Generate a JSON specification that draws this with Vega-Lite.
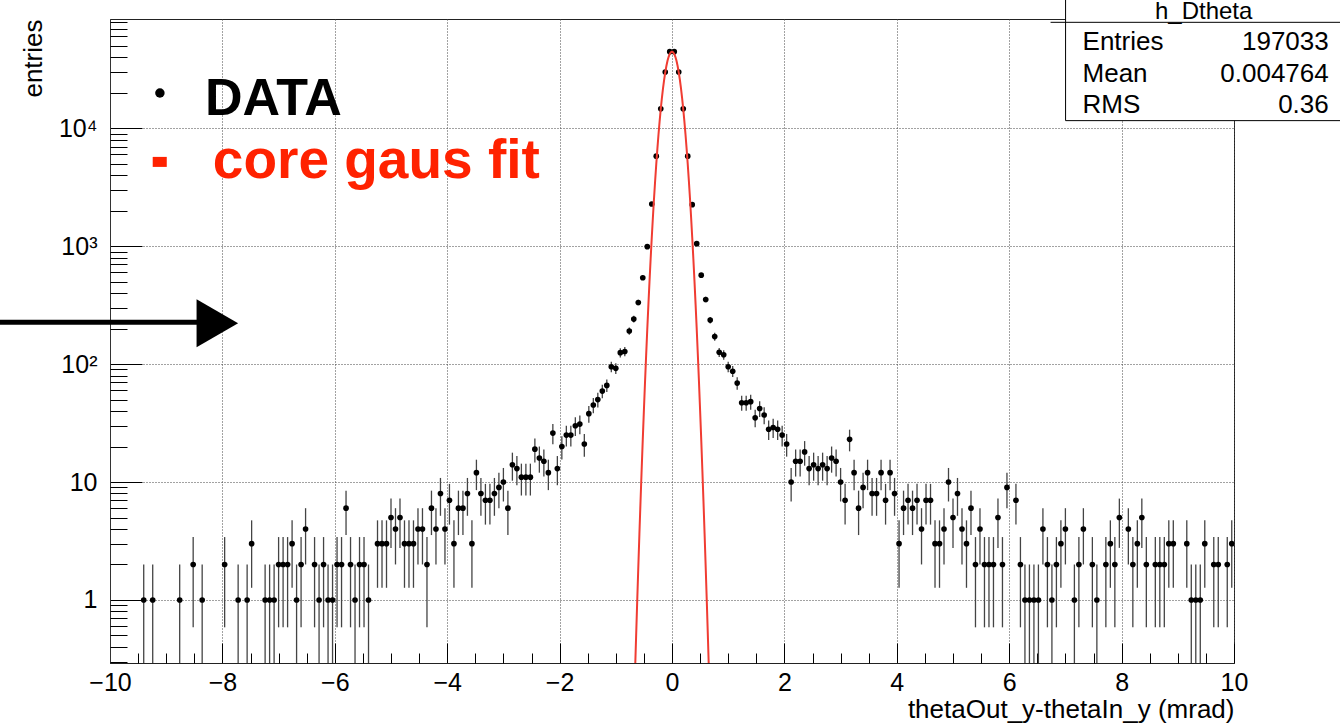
{
  "$schema": "https://vega.github.io/schema/vega-lite/v6.json",
  "width": 1124,
  "height": 644,
  "autosize": "none",
  "padding": {"left": 110, "top": 19, "right": 106, "bottom": 60},
  "background": "white",
  "config": {
    "view": {"stroke": "#222", "strokeWidth": 1},
    "font": "Liberation Sans",
    "axis": {"labelFont": "Liberation Sans", "titleFont": "Liberation Sans", "labelColor": "#000", "titleColor": "#000", "tickColor": "#000", "domainColor": "#333", "labelFlush": false, "labelOverlap": false}
  },
  "datasets": {
    "hist": [
      {"x": -9.40, "n": 1, "lo": 0.01, "hi": 2},
      {"x": -9.24, "n": 1, "lo": 0.01, "hi": 2},
      {"x": -8.76, "n": 1, "lo": 0.01, "hi": 2},
      {"x": -8.52, "n": 2, "lo": 0.586, "hi": 3.414},
      {"x": -8.36, "n": 1, "lo": 0.01, "hi": 2},
      {"x": -7.96, "n": 2, "lo": 0.586, "hi": 3.414},
      {"x": -7.72, "n": 1, "lo": 0.01, "hi": 2},
      {"x": -7.56, "n": 1, "lo": 0.01, "hi": 2},
      {"x": -7.48, "n": 3, "lo": 1.268, "hi": 4.732},
      {"x": -7.24, "n": 1, "lo": 0.01, "hi": 2},
      {"x": -7.16, "n": 1, "lo": 0.01, "hi": 2},
      {"x": -7.08, "n": 1, "lo": 0.01, "hi": 2},
      {"x": -7.00, "n": 2, "lo": 0.586, "hi": 3.414},
      {"x": -6.92, "n": 2, "lo": 0.586, "hi": 3.414},
      {"x": -6.84, "n": 2, "lo": 0.586, "hi": 3.414},
      {"x": -6.76, "n": 3, "lo": 1.268, "hi": 4.732},
      {"x": -6.68, "n": 1, "lo": 0.01, "hi": 2},
      {"x": -6.60, "n": 2, "lo": 0.586, "hi": 3.414},
      {"x": -6.52, "n": 4, "lo": 2, "hi": 6},
      {"x": -6.36, "n": 2, "lo": 0.586, "hi": 3.414},
      {"x": -6.28, "n": 1, "lo": 0.01, "hi": 2},
      {"x": -6.20, "n": 2, "lo": 0.586, "hi": 3.414},
      {"x": -6.12, "n": 1, "lo": 0.01, "hi": 2},
      {"x": -6.04, "n": 1, "lo": 0.01, "hi": 2},
      {"x": -5.96, "n": 2, "lo": 0.586, "hi": 3.414},
      {"x": -5.88, "n": 2, "lo": 0.586, "hi": 3.414},
      {"x": -5.80, "n": 6, "lo": 3.551, "hi": 8.449},
      {"x": -5.72, "n": 2, "lo": 0.586, "hi": 3.414},
      {"x": -5.64, "n": 1, "lo": 0.01, "hi": 2},
      {"x": -5.56, "n": 2, "lo": 0.586, "hi": 3.414},
      {"x": -5.48, "n": 2, "lo": 0.586, "hi": 3.414},
      {"x": -5.40, "n": 1, "lo": 0.01, "hi": 2},
      {"x": -5.24, "n": 3, "lo": 1.268, "hi": 4.732},
      {"x": -5.16, "n": 3, "lo": 1.268, "hi": 4.732},
      {"x": -5.08, "n": 3, "lo": 1.268, "hi": 4.732},
      {"x": -5.00, "n": 5, "lo": 2.764, "hi": 7.236},
      {"x": -4.92, "n": 4, "lo": 2, "hi": 6},
      {"x": -4.84, "n": 5, "lo": 2.764, "hi": 7.236},
      {"x": -4.76, "n": 3, "lo": 1.268, "hi": 4.732},
      {"x": -4.68, "n": 3, "lo": 1.268, "hi": 4.732},
      {"x": -4.60, "n": 3, "lo": 1.268, "hi": 4.732},
      {"x": -4.52, "n": 4, "lo": 2, "hi": 6},
      {"x": -4.44, "n": 4, "lo": 2, "hi": 6},
      {"x": -4.36, "n": 2, "lo": 0.586, "hi": 3.414},
      {"x": -4.28, "n": 6, "lo": 3.551, "hi": 8.449},
      {"x": -4.20, "n": 4, "lo": 2, "hi": 6},
      {"x": -4.12, "n": 8, "lo": 5.172, "hi": 10.828},
      {"x": -4.04, "n": 4, "lo": 2, "hi": 6},
      {"x": -3.96, "n": 7, "lo": 4.354, "hi": 9.646},
      {"x": -3.88, "n": 3, "lo": 1.268, "hi": 4.732},
      {"x": -3.80, "n": 6, "lo": 3.551, "hi": 8.449},
      {"x": -3.72, "n": 6, "lo": 3.551, "hi": 8.449},
      {"x": -3.64, "n": 8, "lo": 5.172, "hi": 10.828},
      {"x": -3.56, "n": 3, "lo": 1.268, "hi": 4.732},
      {"x": -3.48, "n": 12, "lo": 8.536, "hi": 15.464},
      {"x": -3.40, "n": 8, "lo": 5.172, "hi": 10.828},
      {"x": -3.32, "n": 7, "lo": 4.354, "hi": 9.646},
      {"x": -3.24, "n": 7, "lo": 4.354, "hi": 9.646},
      {"x": -3.16, "n": 8, "lo": 5.172, "hi": 10.828},
      {"x": -3.08, "n": 9, "lo": 6, "hi": 12},
      {"x": -3.00, "n": 10, "lo": 6.838, "hi": 13.162},
      {"x": -2.92, "n": 6, "lo": 3.551, "hi": 8.449},
      {"x": -2.84, "n": 14, "lo": 10.258, "hi": 17.742},
      {"x": -2.76, "n": 13, "lo": 9.394, "hi": 16.606},
      {"x": -2.68, "n": 11, "lo": 7.683, "hi": 14.317},
      {"x": -2.60, "n": 11, "lo": 7.683, "hi": 14.317},
      {"x": -2.52, "n": 11, "lo": 7.683, "hi": 14.317},
      {"x": -2.44, "n": 19, "lo": 14.641, "hi": 23.359},
      {"x": -2.36, "n": 16, "lo": 12, "hi": 20},
      {"x": -2.28, "n": 15, "lo": 11.127, "hi": 18.873},
      {"x": -2.20, "n": 12, "lo": 8.536, "hi": 15.464},
      {"x": -2.12, "n": 26, "lo": 20.901, "hi": 31.099},
      {"x": -2.04, "n": 13, "lo": 9.394, "hi": 16.606},
      {"x": -1.96, "n": 20, "lo": 15.528, "hi": 24.472},
      {"x": -1.88, "n": 25, "lo": 20, "hi": 30},
      {"x": -1.80, "n": 25, "lo": 20, "hi": 30},
      {"x": -1.72, "n": 30, "lo": 24.523, "hi": 35.477},
      {"x": -1.64, "n": 31, "lo": 25.432, "hi": 36.568},
      {"x": -1.56, "n": 21, "lo": 16.417, "hi": 25.583},
      {"x": -1.48, "n": 38, "lo": 31.836, "hi": 44.164},
      {"x": -1.40, "n": 45, "lo": 38.292, "hi": 51.708},
      {"x": -1.32, "n": 50, "lo": 42.929, "hi": 57.071},
      {"x": -1.24, "n": 59, "lo": 51.319, "hi": 66.681},
      {"x": -1.16, "n": 66, "lo": 57.876, "hi": 74.124},
      {"x": -1.08, "n": 95, "lo": 85.253, "hi": 104.747},
      {"x": -1.00, "n": 92, "lo": 82.408, "hi": 101.592},
      {"x": -0.92, "n": 125, "lo": 113.82, "hi": 136.18},
      {"x": -0.84, "n": 128, "lo": 116.69, "hi": 139.31},
      {"x": -0.76, "n": 191, "lo": 177.18, "hi": 204.82},
      {"x": -0.68, "n": 241, "lo": 225.48, "hi": 256.52},
      {"x": -0.60, "n": 333, "lo": 314.75, "hi": 351.25},
      {"x": -0.52, "n": 540, "lo": 516.76, "hi": 563.24},
      {"x": -0.44, "n": 990, "lo": 958.54, "hi": 1021.46},
      {"x": -0.36, "n": 2280, "lo": 2232.25, "hi": 2327.75},
      {"x": -0.28, "n": 5800, "lo": 5723.84, "hi": 5876.16},
      {"x": -0.20, "n": 14600, "lo": 14479.17, "hi": 14720.83},
      {"x": -0.12, "n": 30000, "lo": 29826.8, "hi": 30173.2},
      {"x": -0.04, "n": 44600, "lo": 44388.81, "hi": 44811.19},
      {"x": 0.04, "n": 44600, "lo": 44388.81, "hi": 44811.19},
      {"x": 0.12, "n": 30000, "lo": 29826.8, "hi": 30173.2},
      {"x": 0.20, "n": 14600, "lo": 14479.17, "hi": 14720.83},
      {"x": 0.28, "n": 5800, "lo": 5723.84, "hi": 5876.16},
      {"x": 0.36, "n": 2250, "lo": 2202.57, "hi": 2297.43},
      {"x": 0.44, "n": 1050, "lo": 1017.6, "hi": 1082.4},
      {"x": 0.52, "n": 568, "lo": 544.17, "hi": 591.83},
      {"x": 0.60, "n": 353, "lo": 334.21, "hi": 371.79},
      {"x": 0.68, "n": 236, "lo": 220.64, "hi": 251.36},
      {"x": 0.76, "n": 171, "lo": 157.92, "hi": 184.08},
      {"x": 0.84, "n": 126, "lo": 114.78, "hi": 137.22},
      {"x": 0.92, "n": 120, "lo": 109.05, "hi": 130.95},
      {"x": 1.00, "n": 95, "lo": 85.253, "hi": 104.747},
      {"x": 1.08, "n": 87, "lo": 77.673, "hi": 96.327},
      {"x": 1.16, "n": 69, "lo": 60.693, "hi": 77.307},
      {"x": 1.24, "n": 47, "lo": 40.144, "hi": 53.856},
      {"x": 1.32, "n": 47, "lo": 40.144, "hi": 53.856},
      {"x": 1.40, "n": 48, "lo": 41.072, "hi": 54.928},
      {"x": 1.48, "n": 35, "lo": 29.084, "hi": 40.916},
      {"x": 1.56, "n": 42, "lo": 35.519, "hi": 48.481},
      {"x": 1.64, "n": 37, "lo": 30.917, "hi": 43.083},
      {"x": 1.72, "n": 28, "lo": 22.708, "hi": 33.292},
      {"x": 1.80, "n": 29, "lo": 23.615, "hi": 34.385},
      {"x": 1.88, "n": 28, "lo": 22.708, "hi": 33.292},
      {"x": 1.96, "n": 25, "lo": 20, "hi": 30},
      {"x": 2.04, "n": 21, "lo": 16.417, "hi": 25.583},
      {"x": 2.12, "n": 10, "lo": 6.838, "hi": 13.162},
      {"x": 2.20, "n": 15, "lo": 11.127, "hi": 18.873},
      {"x": 2.28, "n": 15, "lo": 11.127, "hi": 18.873},
      {"x": 2.36, "n": 18, "lo": 13.757, "hi": 22.243},
      {"x": 2.44, "n": 13, "lo": 9.394, "hi": 16.606},
      {"x": 2.52, "n": 14, "lo": 10.258, "hi": 17.742},
      {"x": 2.60, "n": 13, "lo": 9.394, "hi": 16.606},
      {"x": 2.68, "n": 14, "lo": 10.258, "hi": 17.742},
      {"x": 2.76, "n": 13, "lo": 9.394, "hi": 16.606},
      {"x": 2.84, "n": 16, "lo": 12, "hi": 20},
      {"x": 2.92, "n": 15, "lo": 11.127, "hi": 18.873},
      {"x": 3.00, "n": 10, "lo": 6.838, "hi": 13.162},
      {"x": 3.08, "n": 7, "lo": 4.354, "hi": 9.646},
      {"x": 3.16, "n": 23, "lo": 18.204, "hi": 27.796},
      {"x": 3.24, "n": 12, "lo": 8.536, "hi": 15.464},
      {"x": 3.32, "n": 6, "lo": 3.551, "hi": 8.449},
      {"x": 3.40, "n": 9, "lo": 6, "hi": 12},
      {"x": 3.48, "n": 12, "lo": 8.536, "hi": 15.464},
      {"x": 3.56, "n": 8, "lo": 5.172, "hi": 10.828},
      {"x": 3.64, "n": 8, "lo": 5.172, "hi": 10.828},
      {"x": 3.72, "n": 12, "lo": 8.536, "hi": 15.464},
      {"x": 3.80, "n": 7, "lo": 4.354, "hi": 9.646},
      {"x": 3.88, "n": 12, "lo": 8.536, "hi": 15.464},
      {"x": 3.96, "n": 8, "lo": 5.172, "hi": 10.828},
      {"x": 4.04, "n": 3, "lo": 1.268, "hi": 4.732},
      {"x": 4.12, "n": 6, "lo": 3.551, "hi": 8.449},
      {"x": 4.20, "n": 7, "lo": 4.354, "hi": 9.646},
      {"x": 4.28, "n": 6, "lo": 3.551, "hi": 8.449},
      {"x": 4.36, "n": 7, "lo": 4.354, "hi": 9.646},
      {"x": 4.44, "n": 4, "lo": 2, "hi": 6},
      {"x": 4.52, "n": 7, "lo": 4.354, "hi": 9.646},
      {"x": 4.60, "n": 7, "lo": 4.354, "hi": 9.646},
      {"x": 4.68, "n": 3, "lo": 1.268, "hi": 4.732},
      {"x": 4.76, "n": 3, "lo": 1.268, "hi": 4.732},
      {"x": 4.84, "n": 4, "lo": 2, "hi": 6},
      {"x": 4.92, "n": 10, "lo": 6.838, "hi": 13.162},
      {"x": 5.00, "n": 5, "lo": 2.764, "hi": 7.236},
      {"x": 5.08, "n": 8, "lo": 5.172, "hi": 10.828},
      {"x": 5.16, "n": 4, "lo": 2, "hi": 6},
      {"x": 5.24, "n": 3, "lo": 1.268, "hi": 4.732},
      {"x": 5.32, "n": 6, "lo": 3.551, "hi": 8.449},
      {"x": 5.40, "n": 2, "lo": 0.586, "hi": 3.414},
      {"x": 5.48, "n": 4, "lo": 2, "hi": 6},
      {"x": 5.56, "n": 2, "lo": 0.586, "hi": 3.414},
      {"x": 5.64, "n": 2, "lo": 0.586, "hi": 3.414},
      {"x": 5.72, "n": 2, "lo": 0.586, "hi": 3.414},
      {"x": 5.80, "n": 5, "lo": 2.764, "hi": 7.236},
      {"x": 5.88, "n": 2, "lo": 0.586, "hi": 3.414},
      {"x": 5.96, "n": 9, "lo": 6, "hi": 12},
      {"x": 6.12, "n": 7, "lo": 4.354, "hi": 9.646},
      {"x": 6.20, "n": 2, "lo": 0.586, "hi": 3.414},
      {"x": 6.28, "n": 1, "lo": 0.01, "hi": 2},
      {"x": 6.36, "n": 1, "lo": 0.01, "hi": 2},
      {"x": 6.44, "n": 1, "lo": 0.01, "hi": 2},
      {"x": 6.52, "n": 1, "lo": 0.01, "hi": 2},
      {"x": 6.60, "n": 4, "lo": 2, "hi": 6},
      {"x": 6.68, "n": 2, "lo": 0.586, "hi": 3.414},
      {"x": 6.76, "n": 1, "lo": 0.01, "hi": 2},
      {"x": 6.84, "n": 2, "lo": 0.586, "hi": 3.414},
      {"x": 6.92, "n": 3, "lo": 1.268, "hi": 4.732},
      {"x": 7.00, "n": 4, "lo": 2, "hi": 6},
      {"x": 7.16, "n": 1, "lo": 0.01, "hi": 2},
      {"x": 7.24, "n": 2, "lo": 0.586, "hi": 3.414},
      {"x": 7.32, "n": 4, "lo": 2, "hi": 6},
      {"x": 7.48, "n": 2, "lo": 0.586, "hi": 3.414},
      {"x": 7.56, "n": 1, "lo": 0.01, "hi": 2},
      {"x": 7.72, "n": 2, "lo": 0.586, "hi": 3.414},
      {"x": 7.80, "n": 3, "lo": 1.268, "hi": 4.732},
      {"x": 7.88, "n": 2, "lo": 0.586, "hi": 3.414},
      {"x": 7.96, "n": 5, "lo": 2.764, "hi": 7.236},
      {"x": 8.12, "n": 4, "lo": 2, "hi": 6},
      {"x": 8.20, "n": 2, "lo": 0.586, "hi": 3.414},
      {"x": 8.28, "n": 3, "lo": 1.268, "hi": 4.732},
      {"x": 8.36, "n": 5, "lo": 2.764, "hi": 7.236},
      {"x": 8.44, "n": 2, "lo": 0.586, "hi": 3.414},
      {"x": 8.60, "n": 2, "lo": 0.586, "hi": 3.414},
      {"x": 8.68, "n": 2, "lo": 0.586, "hi": 3.414},
      {"x": 8.76, "n": 2, "lo": 0.586, "hi": 3.414},
      {"x": 8.84, "n": 3, "lo": 1.268, "hi": 4.732},
      {"x": 8.92, "n": 3, "lo": 1.268, "hi": 4.732},
      {"x": 9.16, "n": 3, "lo": 1.268, "hi": 4.732},
      {"x": 9.24, "n": 1, "lo": 0.01, "hi": 2},
      {"x": 9.32, "n": 1, "lo": 0.01, "hi": 2},
      {"x": 9.40, "n": 1, "lo": 0.01, "hi": 2},
      {"x": 9.48, "n": 3, "lo": 1.268, "hi": 4.732},
      {"x": 9.64, "n": 2, "lo": 0.586, "hi": 3.414},
      {"x": 9.72, "n": 2, "lo": 0.586, "hi": 3.414},
      {"x": 9.88, "n": 2, "lo": 0.586, "hi": 3.414},
      {"x": 9.96, "n": 3, "lo": 1.268, "hi": 4.732}
    ],
    "curve": [
      {"cx": -0.66, "cy": 0.225}, {"cx": -0.64, "cy": 0.466}, {"cx": -0.62, "cy": 0.944}, {"cx": -0.60, "cy": 1.868},
      {"cx": -0.58, "cy": 3.62}, {"cx": -0.56, "cy": 6.86}, {"cx": -0.54, "cy": 12.7}, {"cx": -0.52, "cy": 23.0},
      {"cx": -0.50, "cy": 40.67}, {"cx": -0.48, "cy": 70.41}, {"cx": -0.46, "cy": 119.2}, {"cx": -0.44, "cy": 197.3},
      {"cx": -0.42, "cy": 319.4}, {"cx": -0.40, "cy": 505.5}, {"cx": -0.38, "cy": 782.3}, {"cx": -0.36, "cy": 1184},
      {"cx": -0.34, "cy": 1752}, {"cx": -0.32, "cy": 2537}, {"cx": -0.30, "cy": 3589}, {"cx": -0.28, "cy": 4967},
      {"cx": -0.26, "cy": 6719}, {"cx": -0.24, "cy": 8890}, {"cx": -0.22, "cy": 11502}, {"cx": -0.20, "cy": 14552},
      {"cx": -0.18, "cy": 18003}, {"cx": -0.16, "cy": 21779}, {"cx": -0.14, "cy": 25764}, {"cx": -0.12, "cy": 29800},
      {"cx": -0.10, "cy": 33708}, {"cx": -0.08, "cy": 37283}, {"cx": -0.06, "cy": 40323}, {"cx": -0.04, "cy": 42646},
      {"cx": -0.02, "cy": 44103}, {"cx": 0.0, "cy": 44600}, {"cx": 0.02, "cy": 44103}, {"cx": 0.04, "cy": 42646},
      {"cx": 0.06, "cy": 40323}, {"cx": 0.08, "cy": 37283}, {"cx": 0.10, "cy": 33708}, {"cx": 0.12, "cy": 29800},
      {"cx": 0.14, "cy": 25764}, {"cx": 0.16, "cy": 21779}, {"cx": 0.18, "cy": 18003}, {"cx": 0.20, "cy": 14552},
      {"cx": 0.22, "cy": 11502}, {"cx": 0.24, "cy": 8890}, {"cx": 0.26, "cy": 6719}, {"cx": 0.28, "cy": 4967},
      {"cx": 0.30, "cy": 3589}, {"cx": 0.32, "cy": 2537}, {"cx": 0.34, "cy": 1752}, {"cx": 0.36, "cy": 1184},
      {"cx": 0.38, "cy": 782.3}, {"cx": 0.40, "cy": 505.5}, {"cx": 0.42, "cy": 319.4}, {"cx": 0.44, "cy": 197.3},
      {"cx": 0.46, "cy": 119.2}, {"cx": 0.48, "cy": 70.41}, {"cx": 0.50, "cy": 40.67}, {"cx": 0.52, "cy": 23.0},
      {"cx": 0.54, "cy": 12.7}, {"cx": 0.56, "cy": 6.86}, {"cx": 0.58, "cy": 3.62}, {"cx": 0.60, "cy": 1.868},
      {"cx": 0.62, "cy": 0.944}, {"cx": 0.64, "cy": 0.466}, {"cx": 0.66, "cy": 0.225}
    ],
    "stats": [
      {"key": "Entries", "val": "197033", "sy": 46100},
      {"key": "Mean", "val": "0.004764", "sy": 24690},
      {"key": "RMS", "val": "0.36", "sy": 13480}
    ],
    "one": [{}]
  },
  "resolve": {"axis": {"x": "independent", "y": "independent"}},
  "layer": [
    {
      "data": {"name": "hist"},
      "mark": {"type": "rule", "color": "#444", "strokeWidth": 1.3, "clip": true},
      "encoding": {
        "x": {"field": "x", "type": "quantitative",
              "scale": {"domain": [-10, 10], "nice": false, "zero": false},
              "axis": {"orient": "bottom", "values": [-10, -8, -6, -4, -2, 0, 2, 4, 6, 8, 10], "tickSize": -20, "tickWidth": 1,
                       "labelPadding": 27, "labelFontSize": 25, "grid": true, "gridDash": [1, 2], "gridColor": "#444", "gridWidth": 1,
                       "domainColor": "#222",
                       "title": "thetaOut_y-thetaIn_y (mrad)", "titleFontSize": 26, "titleFontWeight": "normal", "titleAnchor": "end", "titlePadding": 1}},
        "y": {"field": "lo", "type": "quantitative",
              "scale": {"type": "log", "domain": [0.292, 84400], "nice": false},
              "axis": {"orient": "left", "values": [1, 10, 100, 1000, 10000], "tickSize": -32, "tickWidth": 1,
                       "labelPadding": 45, "labelFontSize": 25,
                       "labelExpr": "datum.value == 1 ? '1' : datum.value == 10 ? '10' : datum.value == 100 ? '10²' : datum.value == 1000 ? '10³' : '10⁴'",
                       "grid": true, "gridDash": [1, 2], "gridColor": "#444", "gridWidth": 1, "domainColor": "#333",
                       "title": "entries", "titleFontSize": 26, "titleFontWeight": "normal", "titleAnchor": "end", "titlePadding": 12}},
        "y2": {"field": "hi"}
      }
    },
    {
      "data": {"name": "hist"},
      "mark": {"type": "point", "filled": true, "shape": "circle", "size": 32, "color": "#000", "opacity": 1, "clip": true},
      "encoding": {
        "x": {"field": "x", "type": "quantitative", "scale": {"domain": [-10, 10], "nice": false, "zero": false},
              "axis": {"orient": "bottom", "values": [-9.5, -9, -8.5, -7.5, -7, -6.5, -5.5, -5, -4.5, -3.5, -3, -2.5, -1.5, -1, -0.5, 0.5, 1, 1.5, 2.5, 3, 3.5, 4.5, 5, 5.5, 6.5, 7, 7.5, 8.5, 9, 9.5],
                       "tickSize": -10, "labels": false, "grid": false, "domain": false, "title": null}},
        "y": {"field": "n", "type": "quantitative", "scale": {"type": "log", "domain": [0.292, 84400], "nice": false},
              "axis": {"orient": "left", "values": [0.3, 0.4, 0.5, 0.6, 0.7, 0.8, 0.9, 2, 3, 4, 5, 6, 7, 8, 9, 20, 30, 40, 50, 60, 70, 80, 90, 200, 300, 400, 500, 600, 700, 800, 900, 2000, 3000, 4000, 5000, 6000, 7000, 8000, 9000, 20000, 30000, 40000, 50000, 60000, 70000, 80000],
                       "tickSize": -17, "labels": false, "grid": false, "domain": false, "title": null}}
      }
    },
    {
      "data": {"name": "curve"},
      "mark": {"type": "line", "color": "#f03c32", "strokeWidth": 2, "clip": true},
      "encoding": {
        "x": {"field": "cx", "type": "quantitative", "scale": {"domain": [-10, 10], "nice": false, "zero": false}, "axis": null},
        "y": {"field": "cy", "type": "quantitative", "scale": {"type": "log", "domain": [0.292, 84400], "nice": false}, "axis": null}
      }
    },
    {
      "data": {"name": "one"},
      "mark": {"type": "point", "filled": true, "shape": "circle", "size": 90, "color": "#000", "opacity": 1},
      "encoding": {
        "x": {"datum": -9.112, "type": "quantitative", "axis": null},
        "y": {"datum": 19900, "type": "quantitative", "axis": null}
      }
    },
    {
      "data": {"name": "one"},
      "mark": {"type": "text", "text": "DATA", "align": "left", "baseline": "alphabetic", "font": "Liberation Sans", "fontWeight": "bold", "fontSize": 52, "color": "#000"},
      "encoding": {
        "x": {"datum": -8.31, "type": "quantitative", "axis": null},
        "y": {"datum": 12970, "type": "quantitative", "axis": null}
      }
    },
    {
      "data": {"name": "one"},
      "mark": {"type": "rect", "color": "#ff2200"},
      "encoding": {
        "x": {"datum": -9.24, "type": "quantitative", "axis": null},
        "x2": {"datum": -8.99},
        "y": {"datum": 5715, "type": "quantitative", "axis": null},
        "y2": {"datum": 4700}
      }
    },
    {
      "data": {"name": "one"},
      "mark": {"type": "text", "text": "core gaus fit", "align": "left", "baseline": "alphabetic", "font": "Liberation Sans", "fontWeight": "bold", "fontSize": 55, "color": "#ff2200"},
      "encoding": {
        "x": {"datum": -8.171, "type": "quantitative", "axis": null},
        "y": {"datum": 3793, "type": "quantitative", "axis": null}
      }
    },
    {
      "data": {"name": "one"},
      "mark": {"type": "rule", "color": "#000", "strokeWidth": 5},
      "encoding": {
        "x": {"datum": -11.96, "type": "quantitative", "axis": null},
        "x2": {"datum": -8.3},
        "y": {"datum": 226, "type": "quantitative", "axis": null}
      }
    },
    {
      "data": {"name": "one"},
      "mark": {"type": "point", "filled": true, "shape": "triangle-right", "size": 2300, "color": "#000", "opacity": 1},
      "encoding": {
        "x": {"datum": -8.09, "type": "quantitative", "axis": null},
        "y": {"datum": 222, "type": "quantitative", "axis": null}
      }
    },
    {
      "data": {"name": "one"},
      "mark": {"type": "rect", "fill": "white", "stroke": "#000", "strokeWidth": 1},
      "encoding": {
        "x": {"datum": 7.003, "type": "quantitative", "axis": null},
        "x2": {"datum": 12.3},
        "y": {"datum": 11600, "type": "quantitative", "axis": null},
        "y2": {"datum": 200000}
      }
    },
    {
      "data": {"name": "one"},
      "mark": {"type": "rule", "color": "#000", "strokeWidth": 1},
      "encoding": {
        "x": {"datum": 6.736, "type": "quantitative", "axis": null},
        "x2": {"datum": 12.3},
        "y": {"datum": 79100, "type": "quantitative", "axis": null}
      }
    },
    {
      "data": {"name": "one"},
      "mark": {"type": "text", "text": "h_Dtheta", "align": "center", "baseline": "alphabetic", "font": "Liberation Sans", "fontSize": 24, "color": "#000"},
      "encoding": {
        "x": {"datum": 9.46, "type": "quantitative", "axis": null},
        "y": {"datum": 83600, "type": "quantitative", "axis": null}
      }
    },
    {
      "data": {"name": "stats"},
      "mark": {"type": "text", "align": "left", "baseline": "alphabetic", "font": "Liberation Sans", "fontSize": 26, "color": "#000"},
      "encoding": {
        "x": {"datum": 7.305, "type": "quantitative", "axis": null},
        "y": {"field": "sy", "type": "quantitative", "axis": null},
        "text": {"field": "key"}
      }
    },
    {
      "data": {"name": "stats"},
      "mark": {"type": "text", "align": "right", "baseline": "alphabetic", "font": "Liberation Sans", "fontSize": 26, "color": "#000"},
      "encoding": {
        "x": {"datum": 11.686, "type": "quantitative", "axis": null},
        "y": {"field": "sy", "type": "quantitative", "axis": null},
        "text": {"field": "val"}
      }
    }
  ]
}
